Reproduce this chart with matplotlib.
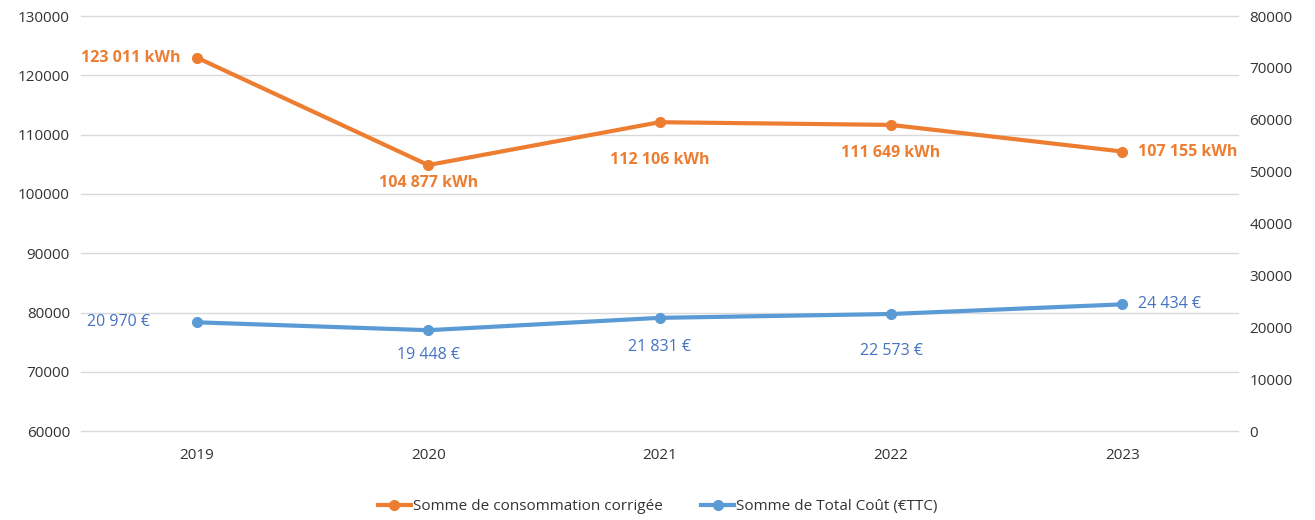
import matplotlib.pyplot as plt

plt.rcParams['font.family'] = ['Open Sans', 'DejaVu Sans']

years = ['2019', '2020', '2021', '2022', '2023']
conso = [123011, 104877, 112106, 111649, 107155]
cout = [20970, 19448, 21831, 22573, 24434]
conso_labels = ['123 011 kWh', '104 877 kWh', '112 106 kWh', '111 649 kWh', '107 155 kWh']
cout_labels = ['20 970 €', '19 448 €', '21 831 €', '22 573 €', '24 434 €']

ORANGE = '#ED7D31'
BLUE = '#5B9BD5'
BLUE_TXT = '#4472C4'

fig = plt.figure(figsize=(13.15, 5.2), dpi=100)
ax = fig.add_axes([0.0616, 0.171, 0.88, 0.798])
ax2 = ax.twinx()

x = list(range(len(years)))
l1, = ax.plot(x, conso, color=ORANGE, lw=3, marker='o', ms=7, label='Somme de consommation corrigée')
l2, = ax2.plot(x, cout, color=BLUE, lw=3, marker='o', ms=7, label='Somme de Total Coût (€TTC)')

ax.set_ylim(60000, 130000)
ax.set_yticks(range(60000, 130001, 10000))
ax2.set_ylim(0, 80000)
ax2.set_yticks(range(0, 80001, 10000))
ax.set_xlim(-0.5, 4.5)
ax.set_xticks(x)
ax.set_xticklabels(years)

ax.grid(axis='y', color='#d9d9d9', lw=1)
for gl in ax.get_ygridlines():
    gl.set_clip_on(False)
ax.set_axisbelow(True)
for a in (ax, ax2):
    for s in a.spines.values():
        s.set_visible(False)
    a.tick_params(length=0, labelsize=11, colors='#333333', pad=8)
ax.tick_params(axis='x', pad=12)

# label offsets in pixels (dx, dy) relative to each point
conso_off = [(-16, 0), (0, -18), (0, -38), (0, -28), (16, 0)]
cout_off = [(-47, 0), (0, -25), (0, -29), (0, -37), (16, 0)]
for i in x:
    for a, vals, labs, offs, col, w in ((ax, conso, conso_labels, conso_off, ORANGE, 'bold'),
                                        (ax2, cout, cout_labels, cout_off, BLUE_TXT, 'normal')):
        dx, dy = offs[i]
        ha = 'right' if dx < 0 else ('left' if dx > 0 else 'center')
        a.annotate(labs[i], (i, vals[i]), xytext=(dx * 0.72, dy * 0.72), textcoords='offset points',
                   ha=ha, va='center', color=col, fontsize=11.5, fontweight=w)

fig.legend(handles=[l1, l2], loc='lower center', bbox_to_anchor=(0.5, -0.015), ncol=2,
           frameon=False, fontsize=11, handlelength=2.2, handletextpad=0.1, columnspacing=2.5,
           labelcolor='#333333')

fig.savefig('out.png', dpi=100)
